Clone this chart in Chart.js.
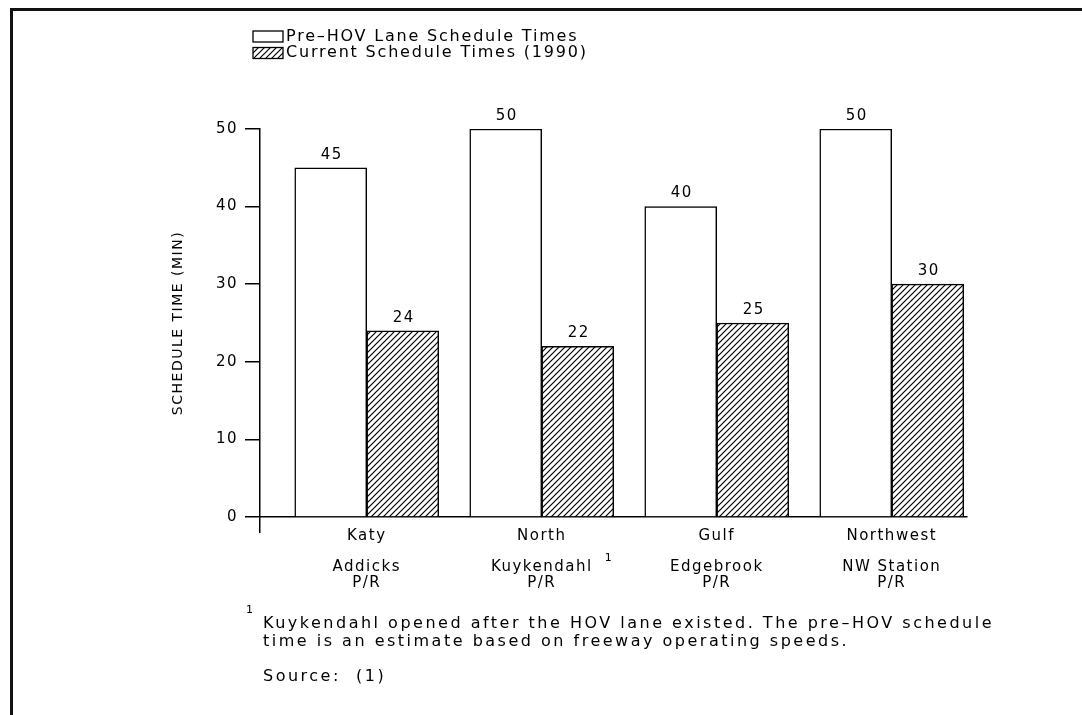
<!DOCTYPE html>
<html>
<head>
<meta charset="utf-8">
<script src="https://cdn.jsdelivr.net/npm/chart.js@4.4.1/dist/chart.umd.min.js"></script>
<style>
  html, body { margin: 0; padding: 0; background: #fff; }
  #wrap { position: relative; width: 1082px; height: 715px; overflow: hidden; }
  /* scanned page frame: top and left edges only */
  #frame { position: absolute; left: 10px; top: 8px; width: 1080px; height: 720px;
           border-top: 3px solid #111; border-left: 3px solid #111; }
  canvas { position: absolute; left: 0; top: 0; }
</style>
</head>
<body>
<div id="wrap">
  <div id="frame"></div>
  <canvas id="hov" width="1082" height="715"></canvas>
</div>
<script>
// data
const corridors = ["Katy", "North", "Gulf", "Northwest"];
const parkRides = ["Addicks", "Kuykendahl", "Edgebrook", "NW Station"];
const preHovTimes = [45, 50, 40, 50];
const currentTimes = [24, 22, 25, 30];
const yTicks = [0, 10, 20, 30, 40, 50];
const seriesNames = ["Pre\u2013HOV Lane Schedule Times", "Current Schedule Times (1990)"];
const footnoteLines = [
  "Kuykendahl opened after the HOV lane existed. The pre\u2013HOV schedule",
  "time is an estimate based on freeway operating speeds."
];
const sourceNote = "Source:  (1)";

const FONT = "'DejaVu Sans', sans-serif";

// diagonal "////" hatch fill
function makeHatch(ctx) {
  const c = document.createElement("canvas");
  c.width = 6;
  c.height = 6;
  const g = c.getContext("2d");
  g.fillStyle = "#fff";
  g.fillRect(0, 0, 6, 6);
  g.strokeStyle = "#000";
  g.lineWidth = 1.2;
  g.beginPath();
  g.moveTo(-1, 7); g.lineTo(7, -1);
  g.moveTo(-1, 1); g.lineTo(1, -1);
  g.moveTo(5, 7); g.lineTo(7, 5);
  g.stroke();
  return ctx.createPattern(c, "repeat");
}

const canvas = document.getElementById("hov");
const hatch = makeHatch(canvas.getContext("2d"));

// the original lettering is wide, so add some tracking
const spacingPlugin = {
  id: "spacing",
  beforeLayout(chart) { chart.ctx.letterSpacing = "1.5px"; },
  beforeDraw(chart) { chart.ctx.letterSpacing = "1.5px"; }
};

// value above every bar
const valueLabels = {
  id: "valueLabels",
  afterDatasetsDraw(chart) {
    const ctx = chart.ctx;
    ctx.save();
    ctx.letterSpacing = "1.5px";
    ctx.font = "15px " + FONT;
    ctx.fillStyle = "#000";
    ctx.textAlign = "center";
    ctx.textBaseline = "middle";
    chart.data.datasets.forEach((ds, di) => {
      chart.getDatasetMeta(di).data.forEach((bar, i) => {
        ctx.fillText(String(ds.data[i].y), bar.x + 1, bar.y - 13);
      });
    });
    ctx.restore();
  }
};

// legend, footnote and superscripts
const notes = {
  id: "notes",
  afterDraw(chart) {
    const ctx = chart.ctx;
    const xs = chart.scales.x;
    ctx.save();
    ctx.fillStyle = "#000";
    ctx.strokeStyle = "#000";
    ctx.lineWidth = 1.3;
    ctx.textBaseline = "middle";
    ctx.textAlign = "left";

    // legend
    const fills = ["#fff", hatch];
    ctx.font = "16px " + FONT;
    ctx.letterSpacing = "1.8px";
    seriesNames.forEach((name, i) => {
      const y = 31 + i * 16.5;
      ctx.fillStyle = fills[i];
      ctx.fillRect(253, y, 30, 11);
      ctx.strokeRect(253, y, 30, 11);
      ctx.fillStyle = "#000";
      ctx.fillText(name, 286, y + 5.5);
    });

    // footnote text
    ctx.letterSpacing = "2.5px";
    footnoteLines.forEach((line, i) => {
      ctx.fillText(line, 263, 624 + i * 18);
    });
    ctx.fillText(sourceNote, 263, 677);

    // superscript marks
    ctx.font = "11px " + FONT;
    ctx.letterSpacing = "0px";
    ctx.fillText("1", 246, 610);
    ctx.fillText("1", xs.getPixelForValue(1) + 63, 558);
    ctx.restore();
  }
};

new Chart(canvas, {
  type: "bar",
  data: {
    datasets: [
      {
        label: seriesNames[0],
        data: preHovTimes.map((v, i) => ({ x: i, y: v })),
        backgroundColor: "#fff",
        borderColor: "#000",
        borderWidth: 1.5,
        barThickness: 72
      },
      {
        label: seriesNames[1],
        data: currentTimes.map((v, i) => ({ x: i, y: v })),
        backgroundColor: hatch,
        borderColor: "#000",
        borderWidth: 1.5,
        barThickness: 72
      }
    ]
  },
  options: {
    responsive: false,
    animation: false,
    layout: { padding: { top: 129, left: 160, right: 115, bottom: 0 } },
    plugins: {
      legend: { display: false },
      tooltip: { enabled: false }
    },
    scales: {
      x: {
        type: "linear",
        offset: false,
        min: -0.61,
        max: 3.43,
        afterBuildTicks: (s) => {
          s.ticks = [{ value: s.min }].concat(corridors.map((_, i) => ({ value: i })));
        },
        afterFit: (s) => { s.height = 198; },
        border: { display: true, color: "#000", width: 1.5 },
        grid: {
          offset: false,
          drawOnChartArea: false,
          drawTicks: true,
          tickLength: 16,
          lineWidth: 1.5,
          // only the stub below the origin is drawn
          color: (c) => (c.index === 0 ? "#000" : "rgba(0,0,0,0)")
        },
        ticks: {
          color: "#000",
          font: { family: FONT, size: 15, lineHeight: "15.5px" },
          padding: -4.5,
          autoSkip: false,
          maxRotation: 0,
          callback: (v) => {
            if (!Number.isInteger(v) || v < 0) return "";
            return [corridors[v], "", parkRides[v], "P/R"];
          }
        }
      },
      y: {
        min: 0,
        max: 50,
        afterBuildTicks: (s) => { s.ticks = yTicks.map((v) => ({ value: v })); },
        afterFit: (s) => { s.width = 100; },
        border: { display: true, color: "#000", width: 1.5 },
        grid: {
          drawOnChartArea: false,
          drawTicks: true,
          tickLength: 15,
          lineWidth: 1.5,
          color: "#000"
        },
        ticks: {
          color: "#000",
          font: { family: FONT, size: 15 },
          padding: 7
        },
        title: {
          display: true,
          text: "SCHEDULE TIME (MIN)",
          color: "#000",
          font: { family: FONT, size: 14 },
          padding: { top: 10, bottom: 0 }
        }
      }
    }
  },
  plugins: [spacingPlugin, valueLabels, notes]
});
</script>
</body>
</html>
